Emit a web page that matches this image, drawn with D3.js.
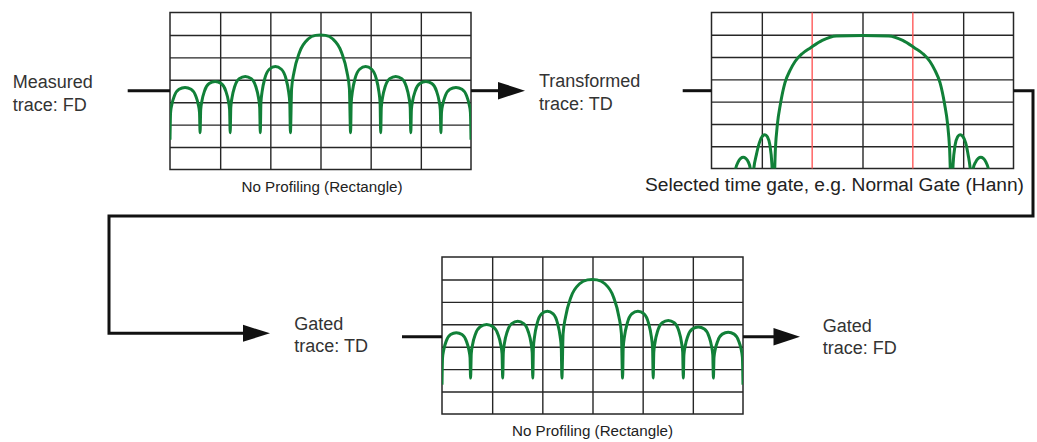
<!DOCTYPE html>
<html><head><meta charset="utf-8">
<script src="https://cdn.jsdelivr.net/npm/d3@7"></script>
<style>
body{margin:0;background:#fff}
svg{display:block}
text{font-family:"Liberation Sans",Arial,sans-serif;fill:#333}
</style>
</head><body>
<svg id="c" width="1037" height="442"></svg>
<script>
// ---------- data (grid units: x 0..6 divisions, y 0..7 divisions from bottom) ----------
const gridCols = 6;
const gridRows = 7;
const gateMarkers = [2, 4];

const measuredFD = [
  [0,1.33],[0.012,2.55],[0.036,2.89],[0.09,3.30],[0.18,3.58],[0.3,3.66],[0.42,3.58],[0.51,3.30],[0.564,2.89],[0.588,2.55],[0.6,1.64],
  [0.612,2.67],[0.636,3.05],[0.69,3.51],[0.78,3.83],[0.9,3.92],[1.02,3.83],[1.11,3.51],[1.164,3.05],[1.188,2.67],[1.2,1.64],
  [1.212,2.77],[1.236,3.20],[1.29,3.70],[1.38,4.05],[1.5,4.15],[1.62,4.05],[1.71,3.70],[1.764,3.20],[1.788,2.77],[1.8,1.64],
  [1.812,2.97],[1.836,3.47],[1.89,4.06],[1.98,4.47],[2.1,4.59],[2.22,4.47],[2.31,4.06],[2.364,3.47],[2.388,2.97],[2.4,1.64],
  [2.424,3.60],[2.472,4.34],[2.58,5.22],[2.76,5.83],[2.9,5.98],[3.0,6.0],[3.1,5.98],[3.24,5.83],[3.42,5.22],[3.528,4.34],[3.576,3.60],[3.6,1.64],
  [3.612,2.97],[3.636,3.47],[3.69,4.06],[3.78,4.47],[3.9,4.59],[4.02,4.47],[4.11,4.06],[4.164,3.47],[4.188,2.97],[4.2,1.64],
  [4.212,2.77],[4.236,3.20],[4.29,3.70],[4.38,4.05],[4.5,4.15],[4.62,4.05],[4.71,3.70],[4.764,3.20],[4.788,2.77],[4.8,1.64],
  [4.812,2.67],[4.836,3.05],[4.89,3.51],[4.98,3.83],[5.1,3.92],[5.22,3.83],[5.31,3.51],[5.364,3.05],[5.388,2.67],[5.4,1.64],
  [5.412,2.55],[5.436,2.89],[5.49,3.30],[5.58,3.58],[5.7,3.66],[5.82,3.58],[5.91,3.30],[5.964,2.89],[5.988,2.55],[6.0,1.33]
];

const transformedTD = [
  [0.42,-0.8],[0.48,0.0],[0.53,0.3],[0.58,0.45],[0.63,0.5],[0.68,0.45],[0.73,0.3],[0.77,0.0],[0.8,-0.8],
  [0.81,-0.8],[0.84,0.0],[0.89,0.6],[0.95,1.15],[1.01,1.45],[1.06,1.52],[1.11,1.42],[1.16,1.05],[1.2,0.2],[1.22,-0.8],
  [1.24,-0.8],[1.27,0.9],[1.31,2.0],[1.37,2.9],[1.46,3.85],[1.56,4.4],[1.66,4.8],[1.8,5.15],[1.97,5.42],[2.2,5.75],
  [2.48,5.95],[3.0,5.97],[3.52,5.95],[3.8,5.75],[4.03,5.42],[4.2,5.15],[4.34,4.8],[4.44,4.4],[4.54,3.85],[4.63,2.9],
  [4.69,2.0],[4.73,0.9],[4.76,-0.8],
  [4.78,-0.8],[4.8,0.2],[4.84,1.05],[4.89,1.42],[4.94,1.52],[4.99,1.45],[5.05,1.15],[5.1,0.6],[5.14,0.0],[5.17,-0.8],
  [5.16,-0.8],[5.2,0.0],[5.25,0.3],[5.3,0.45],[5.35,0.5],[5.4,0.45],[5.45,0.3],[5.5,0.0],[5.56,-0.8]
];

const gatedFD = [
  [0,1.31],[0.011,2.51],[0.034,2.85],[0.086,3.26],[0.171,3.54],[0.285,3.62],[0.399,3.54],[0.484,3.26],[0.536,2.85],[0.559,2.51],[0.57,1.60],
  [0.583,2.68],[0.608,3.08],[0.666,3.56],[0.762,3.89],[0.89,3.99],[1.018,3.89],[1.114,3.56],[1.172,3.08],[1.197,2.68],[1.21,1.60],
  [1.222,2.74],[1.246,3.17],[1.3,3.67],[1.39,4.03],[1.51,4.13],[1.63,4.03],[1.72,3.67],[1.774,3.17],[1.798,2.74],[1.81,1.60],
  [1.822,2.94],[1.845,3.45],[1.897,4.04],[1.984,4.46],[2.1,4.58],[2.216,4.46],[2.303,4.04],[2.355,3.45],[2.378,2.94],[2.39,1.60],
  [2.414,3.58],[2.463,4.33],[2.57,5.21],[2.75,5.82],[2.9,5.98],[2.995,6.0],[3.09,5.98],[3.24,5.82],[3.42,5.21],[3.527,4.33],[3.576,3.58],[3.6,1.60],
  [3.612,2.94],[3.637,3.45],[3.692,4.04],[3.783,4.46],[3.905,4.58],[4.027,4.46],[4.118,4.04],[4.173,3.45],[4.198,2.94],[4.21,1.60],
  [4.222,2.76],[4.246,3.19],[4.3,3.71],[4.39,4.07],[4.51,4.17],[4.63,4.07],[4.72,3.71],[4.774,3.19],[4.798,2.76],[4.81,1.60],
  [4.822,2.63],[4.846,3.01],[4.9,3.47],[4.99,3.79],[5.11,3.88],[5.23,3.79],[5.32,3.47],[5.374,3.01],[5.398,2.63],[5.41,1.60],
  [5.422,2.52],[5.445,2.86],[5.499,3.27],[5.587,3.56],[5.705,3.64],[5.823,3.56],[5.911,3.27],[5.965,2.86],[5.988,2.52],[6.0,1.31]
];

const stageLabels = [
  {lines:["Measured","trace: FD"], x:12.7, y:88.3},
  {lines:["Transformed","trace: TD"], x:539, y:87.3},
  {lines:["Gated","trace: TD"], x:294.3, y:330},
  {lines:["Gated","trace: FD"], x:822.7, y:331.7}
];

const captions = [
  {text:"No Profiling (Rectangle)", x:322, y:191.7, anchor:"middle", size:15.5, len:161},
  {text:"Selected time gate, e.g. Normal Gate (Hann)", x:645, y:190.7, anchor:"start", size:18, len:379},
  {text:"No Profiling (Rectangle)", x:592.5, y:436, anchor:"middle", size:15.5, len:161}
];

// ---------- layout ----------
const panels = [
  {x:170,   y:12.5, w:301, h:157, data:measuredFD,    gates:[]},
  {x:711.5, y:12.5, w:302, h:156, data:transformedTD, gates:gateMarkers},
  {x:442,   y:257,  w:301, h:157, data:gatedFD,       gates:[]}
];

const svg = d3.select("#c");
const GRID = "#262626", TRACE = "#118038", GATE = "#ff5a5a", INK = "#111";

panels.forEach((p, i) => {
  const x = d3.scaleLinear().domain([0, gridCols]).range([0, p.w]);
  const y = d3.scaleLinear().domain([0, gridRows]).range([p.h, 0]);
  const g = svg.append("g").attr("transform", `translate(${p.x},${p.y})`);

  const vTicks = d3.range(1, gridCols).filter(t => !p.gates.includes(t));
  const xa = g.append("g").attr("transform", `translate(0,${p.h})`)
    .call(d3.axisBottom(x).tickValues(vTicks).tickSize(-p.h).tickFormat(""));
  const ya = g.append("g")
    .call(d3.axisLeft(y).tickValues(d3.range(1, gridRows)).tickSize(-p.w).tickFormat(""));
  [xa, ya].forEach(a => {
    a.select(".domain").remove();
    a.selectAll("line").attr("stroke", GRID).attr("stroke-width", 1.4);
  });
  g.append("rect").attr("width", p.w).attr("height", p.h)
    .attr("fill", "none").attr("stroke", GRID).attr("stroke-width", 1.5);

  g.selectAll(".gate").data(p.gates).enter().append("line")
    .attr("x1", d => x(d)).attr("x2", d => x(d)).attr("y1", 0).attr("y2", p.h)
    .attr("stroke", GATE).attr("stroke-width", 1.4);

  const cid = "clip" + i;
  g.append("clipPath").attr("id", cid).append("rect")
    .attr("x", 0).attr("y", 0).attr("width", p.w).attr("height", p.h);

  const line = d3.line().x(d => x(d[0])).y(d => y(d[1])).curve(d3.curveMonotoneX);
  g.append("path").datum(p.data).attr("d", line)
    .attr("clip-path", `url(#${cid})`)
    .attr("fill", "none").attr("stroke", TRACE).attr("stroke-width", 3)
    .attr("stroke-linejoin", "round").attr("stroke-linecap", "butt");
});

// ---------- connectors ----------
const conn = svg.append("g").attr("fill", "none").attr("stroke", INK).attr("stroke-width", 3);
conn.append("path").attr("d", "M127.7,90.7H170");
conn.append("path").attr("d", "M471,90.7H500");
conn.append("path").attr("d", "M682.7,90.7H711.5");
conn.append("path").attr("d", "M1013.5,90.7H1033V216H109V333.3H246").attr("stroke-linejoin", "miter");
conn.append("path").attr("d", "M402,336.7H442");
conn.append("path").attr("d", "M743,336.7H776");

const heads = [
  [[498,82],[525,90.7],[498,99.4]],
  [[243,324.8],[270,333.3],[243,341.8]],
  [[773.5,328],[800,336.7],[773.5,345.4]]
];
svg.selectAll(".head").data(heads).enter().append("polygon")
  .attr("points", d => d.map(p => p.join(",")).join(" "))
  .attr("fill", INK);

// ---------- text ----------
stageLabels.forEach(s => {
  const t = svg.append("text").attr("font-size", 18);
  s.lines.forEach((l, k) => t.append("tspan").attr("x", s.x).attr("y", s.y + k * 22.4).text(l));
});
captions.forEach(c => {
  svg.append("text").attr("x", c.x).attr("y", c.y).attr("text-anchor", c.anchor)
    .attr("font-size", c.size).attr("textLength", c.len).attr("lengthAdjust", "spacingAndGlyphs")
    .style("fill", "#222")
    .text(c.text);
});
</script>
</body></html>
